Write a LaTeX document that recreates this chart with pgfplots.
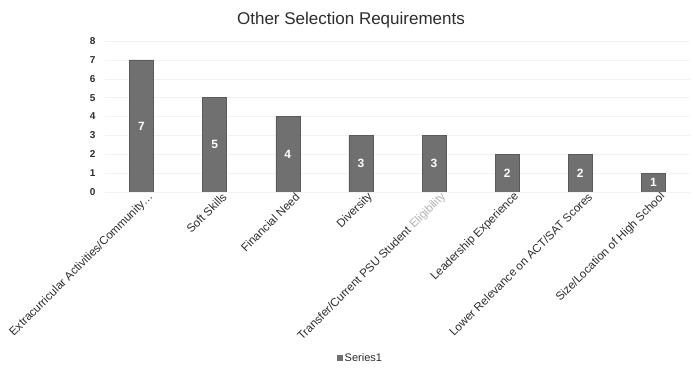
\documentclass[border=0pt]{standalone}
\usepackage{pgfplots}
\pgfplotsset{compat=1.18}
\usepackage{fontspec}
\setmainfont{Liberation Sans}
\definecolor{barc}{RGB}{112,112,112}
\definecolor{txt}{RGB}{45,45,45}
\begin{document}
\begin{tikzpicture}
\path[use as bounding box] (0,0) rectangle (693pt,387pt);
\fill[white] (0,0) rectangle (693pt,387pt);
\node[font=\fontsize{17}{19}\selectfont, text=txt] at (351pt,367pt) {Other Selection Requirements};
\begin{axis}[
  at={(105pt,195pt)}, anchor=south west,
  scale only axis, width=585pt, height=151pt,
  xmin=-0.5, xmax=7.5, ymin=0, ymax=8,
  ytick={0,1,2,3,4,5,6,7,8},
  xtick=data,
  xticklabels={{Extracurricular Activities/Community\ldots}, Soft Skills, Financial Need, Diversity, {Transfer/Current PSU Student \textcolor{gray!60}{Eligibility}}, Leadership Experience, Lower Relevance on ACT/SAT Scores, Size/Location of High School},
  x tick label style={rotate=45, anchor=east, font=\fontsize{11.6}{13}\selectfont, text=txt, inner sep=0pt, xshift=5pt, yshift=-9pt},
  y tick label style={font=\bfseries\fontsize{10}{11}\selectfont, text=txt},
  /pgf/number format/assume math mode=true,
  axis line style={draw=none},
  major tick length=0pt,
  ymajorgrids, grid style={gray!10},
  yticklabel style={xshift=-6pt},
  ybar, bar width=24pt,
  nodes near coords,
  visualization depends on=rawy \as \rawy,
  nodes near coords style={font=\bfseries\fontsize{12}{13}\selectfont, text=white, anchor=center, shift={(axis direction cs:0,-\rawy/2)}},
  legend style={at={(0.437,-1.10)}, anchor=center, draw=none, fill=none, font=\fontsize{11}{12}\selectfont, text=txt},
  legend image code/.code={\fill[barc] (0pt,-2.5pt) rectangle (5pt,2.5pt);},
]
\addplot[fill=barc, draw=barc!80!black] coordinates {(0,7) (1,5) (2,4) (3,3) (4,3) (5,2) (6,2) (7,1)};
\addlegendentry{Series1}
\end{axis}
\end{tikzpicture}
\end{document}
